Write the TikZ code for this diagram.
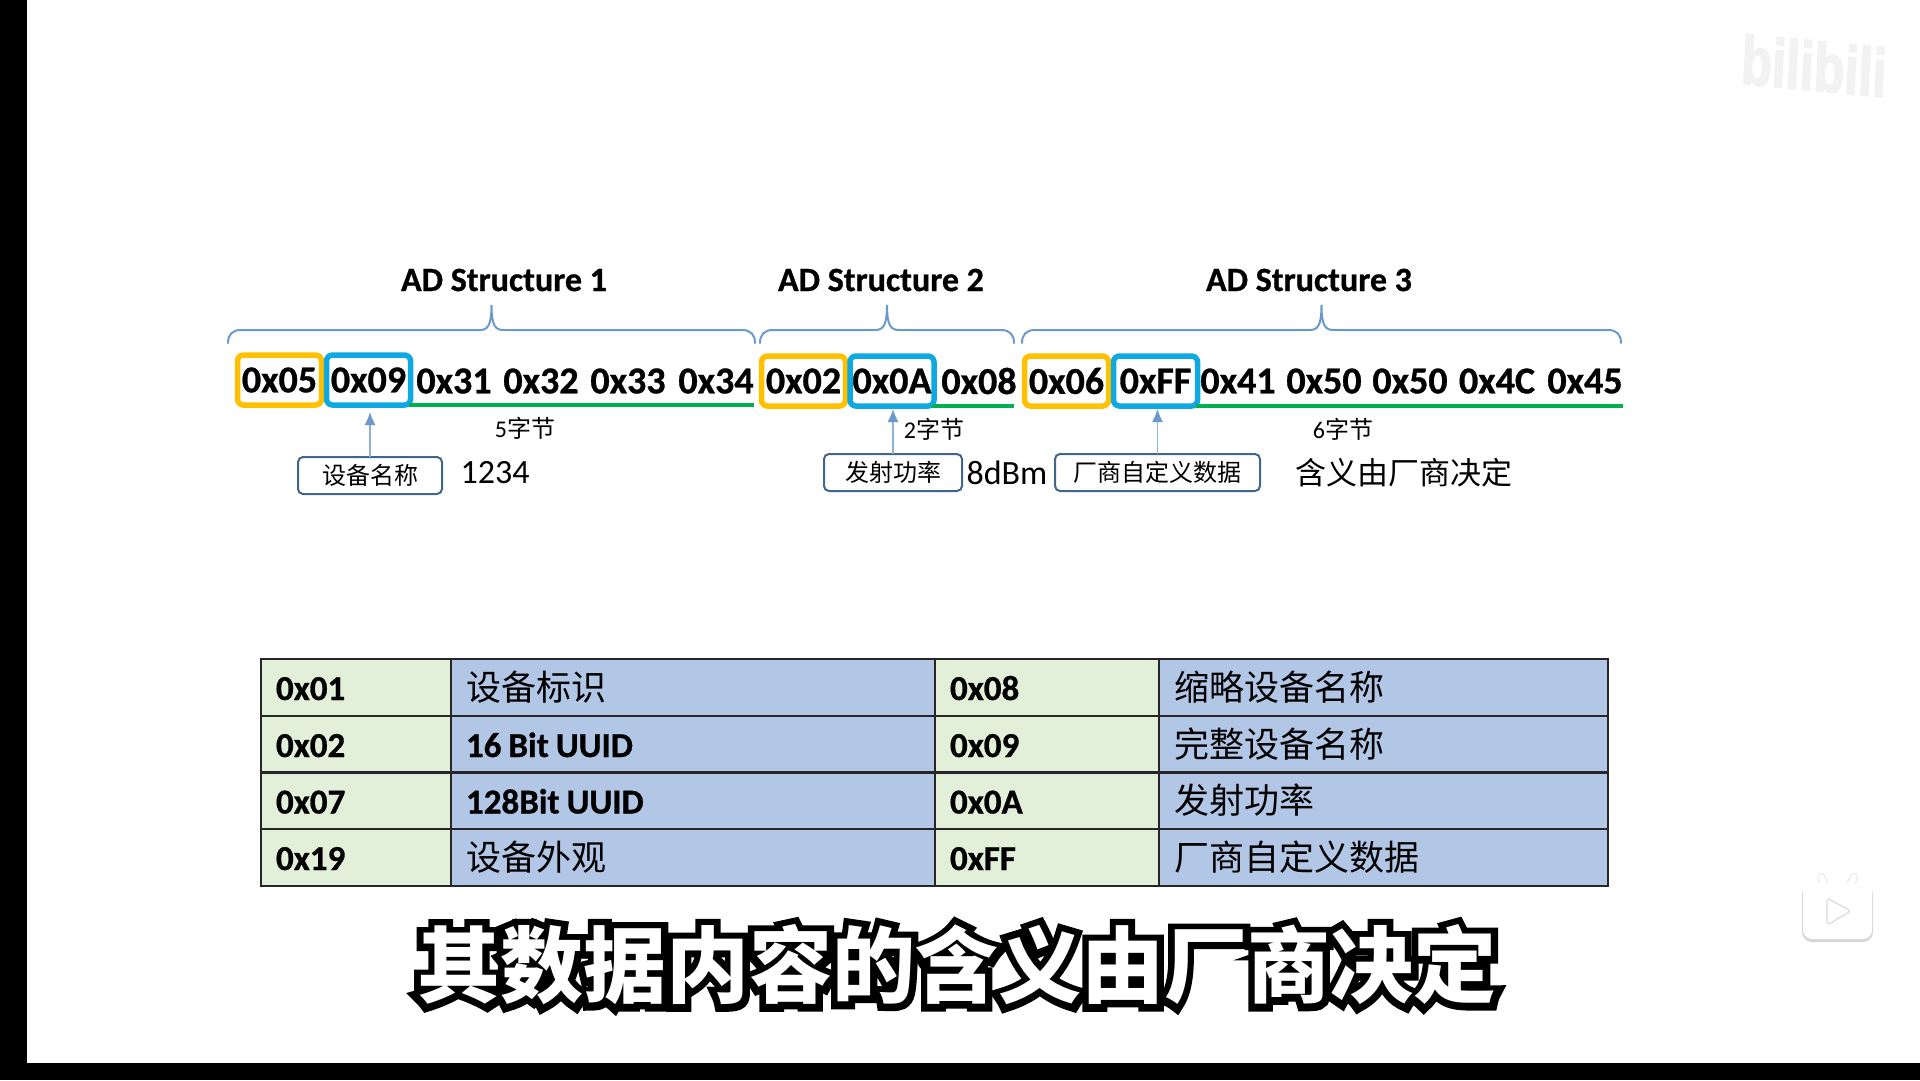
\documentclass[tikz,border=0pt]{standalone}
\usepackage{fontspec}
\usetikzlibrary{arrows.meta}
\setmainfont[BoldFeatures={FakeBold=0.8}]{Carlito}
\newfontfamily\cjk{Noto Sans CJK SC}
\newfontfamily\cjkedge[FakeBold=18]{Noto Sans CJK SC Bold}
\newfontfamily\logofont[FakeBold=3]{Liberation Sans Bold}
\definecolor{byteyellow}{HTML}{FFC000}
\definecolor{byteblue}{HTML}{0FA8E0}
\definecolor{bytegreen}{HTML}{00B050}
\definecolor{bracecol}{HTML}{6A9ACB}
\definecolor{tagcol}{HTML}{41668C}
\definecolor{cellgreen}{HTML}{E2EFD9}
\definecolor{cellblue}{HTML}{B2C6E6}
\newcommand{\px}[1]{\fontsize{#1}{#1}\selectfont}
\tikzset{
    every node/.style={outer sep=0pt},
    bytetext/.style={font=\bfseries\px{38}, inner sep=0pt},
    lenbox/.style={bytetext, draw=byteyellow, line width=5.5pt, rounded corners=6pt, minimum width=84pt, minimum height=50pt},
    typebox/.style={lenbox, draw=byteblue},
    datarule/.style={draw=bytegreen, line width=4pt, shorten <=-2pt},
    bracket/.style={draw=bracecol, line width=2pt, line cap=round},
    tagbox/.style={draw=tagcol, line width=2pt, rounded corners=5pt, font=\cjk\px{24}, minimum height=37pt, inner sep=0pt},
    ptr/.style={draw=bracecol!75, line width=1.3pt, -{Latex[length=13pt,width=11pt,color=bracecol]}, shorten >=3pt},
    cell/.style={draw=black!85, line width=2.5pt, anchor=west, minimum height=57pt, inner xsep=15pt, inner ysep=0pt, text height=25pt, text depth=0pt, align=left, font=\px{35}},
}
\begin{document}
\begin{tikzpicture}[x=1pt, y=-1pt]
\useasboundingbox (0,0) rectangle (1920,1080);
\fill[black] (0,0) rectangle (27,1080);
\fill[black] (0,1063) rectangle (1920,1080);

% titles and braces
\foreach \n/\x in {1/504, 2/881, 3/1309} {
    \node[font=\bfseries\px{34}, inner sep=0pt] (title\n) at (\x,280) {AD Structure \n};
}
\foreach \xa/\xb in {228/755, 760/1014, 1022/1621} {
    \pgfmathsetmacro{\xm}{(\xa+\xb)/2}
    \draw[bracket] (\xa,343) .. controls (\xa,335) and (\xa+4,330) .. (\xa+13,330) -- (\xm-12,330)
        .. controls (\xm-4,330) and (\xm,326) .. (\xm,305) .. controls (\xm,326) and (\xm+4,330) .. (\xm+12,330)
        -- (\xb-13,330) .. controls (\xb-4,330) and (\xb,335) .. (\xb,343);
}

% the bytes
\foreach \name/\x/\txt in {d1/454/0x31, d2/541/0x32, d3/628/0x33, d4/716/0x34, e1/979/0x08,
    f1/1238/0x41, f2/1324/0x50, f3/1410/0x50, f4/1497/0x4C, f5/1585/0x45} {
    \node[bytetext] (\name) at (\x,381) {\txt};
}
\node[lenbox] (lena) at (279.5,380) {0x05};
\node[lenbox] (lenb) at (803.5,381) {0x02};
\node[lenbox] (lenc) at (1066.5,381) {0x06};
\node[typebox] (typea) at (368.5,380) {0x09};
\node[typebox] (typeb) at (892,381) {0x0A};
\node[typebox] (typec) at (1155.5,381) {0xFF};

\draw[datarule] (typea.south east) -- (d4.east |- typea.south);
\draw[datarule, yshift=2pt, shorten >=3pt] (typeb.south east) -- (e1.east |- typeb.south);
\draw[datarule] (typec.south east) -- (f5.east |- typec.south);

\node[font=\px{24}, inner sep=0pt] (lentxta) at (525,428) {5\cjk 字节};
\node[font=\px{24}, inner sep=0pt] (lentxtb) at (934,429) {2\cjk 字节};
\node[font=\px{24}, inner sep=0pt] (lentxtc) at (1343,429) {6\cjk 字节};

% what the type bytes mean
\node[tagbox, minimum width=144pt] (taga) at (370,475.5) {设备名称};
\node[tagbox, minimum width=138pt] (tagb) at (893,472.5) {发射功率};
\node[tagbox, minimum width=205pt] (tagc) at (1157.5,472.5) {厂商自定义数据};
\draw[ptr, shorten >=7pt] (taga.north) -- (taga.north |- typea.south);
\draw[ptr] (tagb.north) -- (tagb.north |- typeb.south);
\draw[ptr] (tagc.north) -- (tagc.north |- typec.south);

\node[font=\px{34}, inner sep=0pt] (vala) at (495,473) {1234};
\node[font=\px{34}, inner sep=0pt] (valb) at (1007,473) {8dBm};
\node[font=\cjk\px{31}, inner sep=0pt] (valc) at (1404,473) {含义由厂商决定};

% table
\foreach \rw/\y/\ca/\cb/\cc/\cd in {
    a/687.5/0x01/{\cjk 设备标识}/0x08/{\cjk 缩略设备名称},
    b/744.5/0x02/{\bfseries\spaceskip=.2em 16 Bit UUID}/0x09/{\cjk 完整设备名称},
    c/801/0x07/{\bfseries\spaceskip=.2em 128Bit UUID}/0x0A/{\cjk 发射功率},
    d/857.5/0x19/{\cjk 设备外观}/0xFF/{\cjk 厂商自定义数据}} {
    \node[cell, fill=cellgreen, minimum width=190pt, text width=160pt, font=\bfseries\px{35}] (\rw1) at (261,\y) {\ca};
    \node[cell, fill=cellblue, minimum width=484pt, text width=454pt] (\rw2) at (451,\y) {\cb};
    \node[cell, fill=cellgreen, minimum width=224pt, text width=194pt, font=\bfseries\px{35}] (\rw3) at (935,\y) {\cc};
    \node[cell, fill=cellblue, minimum width=449pt, text width=419pt] (\rw4) at (1159,\y) {\cd};
}

% subtitle
\node[font=\cjkedge\px{83}, text=black, inner sep=0pt] (subedge) at (957,965) {其数据内容的含义由厂商决定};
\node[font=\cjk\bfseries\px{83}, text=white, inner sep=0pt] (subtext) at (957,965) {其数据内容的含义由厂商决定};

% player marks
\node[font=\logofont\px{68}, text=black!5, xscale=.74, inner sep=0pt, rotate=-4] (logo) at (1814,66) {bilibili};
\fill[black!16, rounded corners=10pt] (1802,885) rectangle (1873,942);
\draw[black!10, line width=8pt, line cap=round] (1825,885) -- (1821,877) (1850,885) -- (1854,877);
\draw[white, line width=6pt, line cap=round] (1825,885) -- (1821,877) (1850,885) -- (1854,877);
\fill[white, rounded corners=9pt] (1803,883) rectangle (1872,939);
\draw[black!14, fill=white, line width=1.2pt, rounded corners=3pt] (1827,898) -- (1851,911) -- (1827,925) -- cycle;
\end{tikzpicture}
\end{document}
